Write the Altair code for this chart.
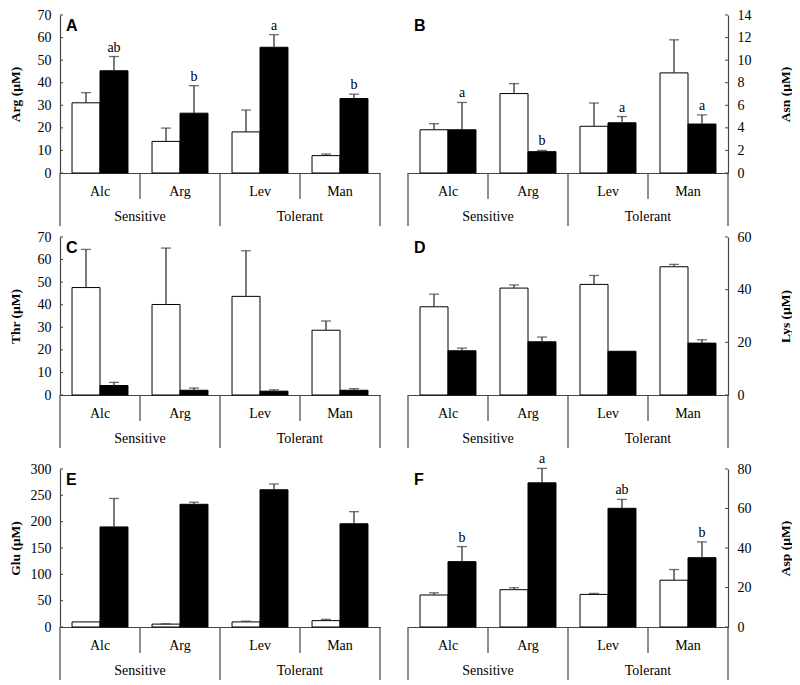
import altair as alt
import pandas as pd

cultivars = ["Alc", "Arg", "Lev", "Man"]
groups = ["Sensitive", "Tolerant"]
group_starts = ["Alc", "Lev"]
treatments = ["white", "black"]

# Panel A - Arg
arg_white = [31.1, 14.0, 18.2, 7.7]
arg_white_err = [4.5, 5.9, 9.7, 0.7]
arg_black = [45.3, 26.5, 55.7, 33.0]
arg_black_err = [6.3, 12.2, 5.6, 1.9]
arg_letters = ["ab", "b", "a", "b"]

# Panel B - Asn
asn_white = [3.83, 7.04, 4.14, 8.87]
asn_white_err = [0.54, 0.88, 2.06, 2.93]
asn_black = [3.83, 1.89, 4.45, 4.34]
asn_black_err = [2.42, 0.11, 0.55, 0.81]
asn_letters = ["a", "b", "a", "a"]

# Panel C - Thr
thr_white = [47.6, 40.1, 43.7, 28.7]
thr_white_err = [16.9, 25.0, 20.2, 4.1]
thr_black = [4.2, 2.1, 1.7, 2.1]
thr_black_err = [1.4, 1.0, 0.6, 0.7]
thr_letters = ["", "", "", ""]

# Panel D - Lys
lys_white = [33.5, 40.6, 42.0, 48.7]
lys_white_err = [4.8, 1.2, 3.4, 0.9]
lys_black = [16.8, 20.2, 16.6, 19.7]
lys_black_err = [1.0, 1.8, 0.0, 1.3]
lys_letters = ["", "", "", ""]

# Panel E - Glu
glu_white = [9.7, 5.5, 9.7, 12.1]
glu_white_err = [0.0, 0.5, 1.3, 2.4]
glu_black = [190.0, 233.0, 260.6, 196.0]
glu_black_err = [54.0, 4.0, 11.0, 23.0]
glu_letters = ["", "", "", ""]

# Panel F - Asp
asp_white = [16.2, 18.9, 16.5, 23.7]
asp_white_err = [1.1, 1.0, 0.5, 5.4]
asp_black = [33.1, 73.0, 60.1, 35.1]
asp_black_err = [7.6, 7.3, 4.5, 8.0]
asp_letters = ["b", "a", "ab", "b"]

panels = [
    ("A", "Arg (µM)", arg_white, arg_white_err, arg_black, arg_black_err, arg_letters, 70, 10, "left"),
    ("B", "Asn (µM)", asn_white, asn_white_err, asn_black, asn_black_err, asn_letters, 14, 2, "right"),
    ("C", "Thr (µM)", thr_white, thr_white_err, thr_black, thr_black_err, thr_letters, 70, 10, "left"),
    ("D", "Lys (µM)", lys_white, lys_white_err, lys_black, lys_black_err, lys_letters, 60, 20, "right"),
    ("E", "Glu (µM)", glu_white, glu_white_err, glu_black, glu_black_err, glu_letters, 300, 50, "left"),
    ("F", "Asp (µM)", asp_white, asp_white_err, asp_black, asp_black_err, asp_letters, 80, 20, "right"),
]

W = 320
H = 158
SERIF = "Liberation Serif"
AX = "#444444"
ERR = "#333333"
FS = 14


def make_panel(letter, title, w, we, b, be, letters, ymax, step, side):
    rows = []
    for i, c in enumerate(cultivars):
        rows.append(dict(cultivar=c, treatment="white", value=w[i], err=we[i], top=w[i] + we[i], letter=""))
        rows.append(dict(cultivar=c, treatment="black", value=b[i], err=be[i], top=b[i] + be[i], letter=letters[i]))
    df = pd.DataFrame(rows)

    xs = alt.Scale(domain=cultivars, paddingInner=0, paddingOuter=0)
    ys = alt.Scale(domain=[0, ymax], nice=False, zero=True)
    ticks = list(range(0, ymax + 1, step))

    yaxis = alt.Axis(
        orient=side, values=ticks, format="d", ticks=False, labelPadding=9,
        labelOverlap=False, labelBound=False,
        domainColor=AX, domainWidth=1.2, grid=False,
        title=title, titleFont=SERIF, titleFontSize=13.5, titleFontWeight="bold",
        titleAngle=270, titleAlign="center", titleBaseline="middle",
        titleX=(-45 if side == "left" else 57), titleY=H / 2,
        labelFont=SERIF, labelFontSize=FS, labelColor="black", titleColor="black",
    )

    def Y(field):
        return alt.Y(field, scale=ys, axis=yaxis)

    xaxis = alt.Axis(labels=False, ticks=False, title=None, domainColor=AX, domainWidth=1.2, grid=False)

    def X(band=None):
        if band is None:
            return alt.X("cultivar:N", sort=cultivars, scale=xs, axis=xaxis)
        return alt.X("cultivar:N", sort=cultivars, scale=xs, axis=xaxis, bandPosition=band)

    base = alt.Chart(df).encode(
        x=X(),
        xOffset=alt.XOffset("treatment:N", sort=treatments,
                            scale=alt.Scale(domain=treatments, paddingInner=0, paddingOuter=0.43)),
    )

    bars = base.mark_bar(stroke="black", strokeWidth=1).encode(
        y=Y("value:Q"),
        fill=alt.Fill("treatment:N", scale=alt.Scale(domain=treatments, range=["white", "black"]), legend=None),
    )
    errdf = base.transform_filter("datum.err > 0")
    err_line = errdf.mark_rule(color=ERR, strokeWidth=1.3).encode(y=Y("value:Q"), y2="top:Q")
    err_cap = errdf.mark_tick(color=ERR, size=10, thickness=1.3, orient="horizontal").encode(y=Y("top:Q"))
    lett = base.transform_filter("datum.letter != ''").mark_text(
        baseline="bottom", dy=-2, font=SERIF, fontSize=FS, color="black", fill="black"
    ).encode(y=Y("top:Q"), text="letter:N")

    tdf = pd.DataFrame({"tick": ticks})
    if side == "left":
        tick_marks = alt.Chart(tdf).mark_rule(color=AX, strokeWidth=1).encode(
            y=Y("tick:Q"), x=alt.value(0), x2=alt.value(3))
    else:
        tick_marks = alt.Chart(tdf).mark_rule(color=AX, strokeWidth=1).encode(
            y=Y("tick:Q"), x=alt.value(W - 3), x2=alt.value(W))

    cdf = pd.DataFrame({"cultivar": cultivars})
    cult_labels = alt.Chart(cdf).mark_text(font=SERIF, fontSize=FS, baseline="middle", color="black").encode(
        x=X(), y=alt.value(H + 19), text="cultivar:N")
    short_div = alt.Chart(pd.DataFrame({"cultivar": [c for c in cultivars if c not in group_starts]})).mark_rule(
        color=AX, strokeWidth=1.2).encode(x=X(0), y=alt.value(H), y2=alt.value(H + 26))
    long_div = alt.Chart(pd.DataFrame({"cultivar": group_starts})).mark_rule(
        color=AX, strokeWidth=1.2).encode(x=X(0), y=alt.value(H), y2=alt.value(H + 53))
    end_div = alt.Chart(pd.DataFrame({"cultivar": [cultivars[-1]]})).mark_rule(
        color=AX, strokeWidth=1.2).encode(x=X(1), y=alt.value(H), y2=alt.value(H + 53))
    gdf = pd.DataFrame({"cultivar": ["Arg", "Man"], "group": groups})
    group_labels = alt.Chart(gdf).mark_text(font=SERIF, fontSize=FS, baseline="middle", color="black").encode(
        x=X(0), y=alt.value(H + 44), text="group:N")

    plet = alt.Chart(pd.DataFrame({"t": [letter]})).mark_text(
        font="Liberation Sans", fontSize=16, fontWeight="bold", align="left", baseline="alphabetic", color="black"
    ).encode(x=alt.value(6), y=alt.value(16), text="t:N")

    return alt.layer(bars, err_line, err_cap, lett, tick_marks, short_div, long_div, end_div,
                     cult_labels, group_labels, plet).properties(width=W, height=H)


charts = [make_panel(*p) for p in panels]
rows = [alt.hconcat(charts[i], charts[i + 1], spacing=26) for i in (0, 2, 4)]
chart = alt.vconcat(*rows, spacing=3).properties(padding=0).configure_view(stroke=None)

chart.save("out.html", embed_options={"renderer": "svg", "actions": False})
